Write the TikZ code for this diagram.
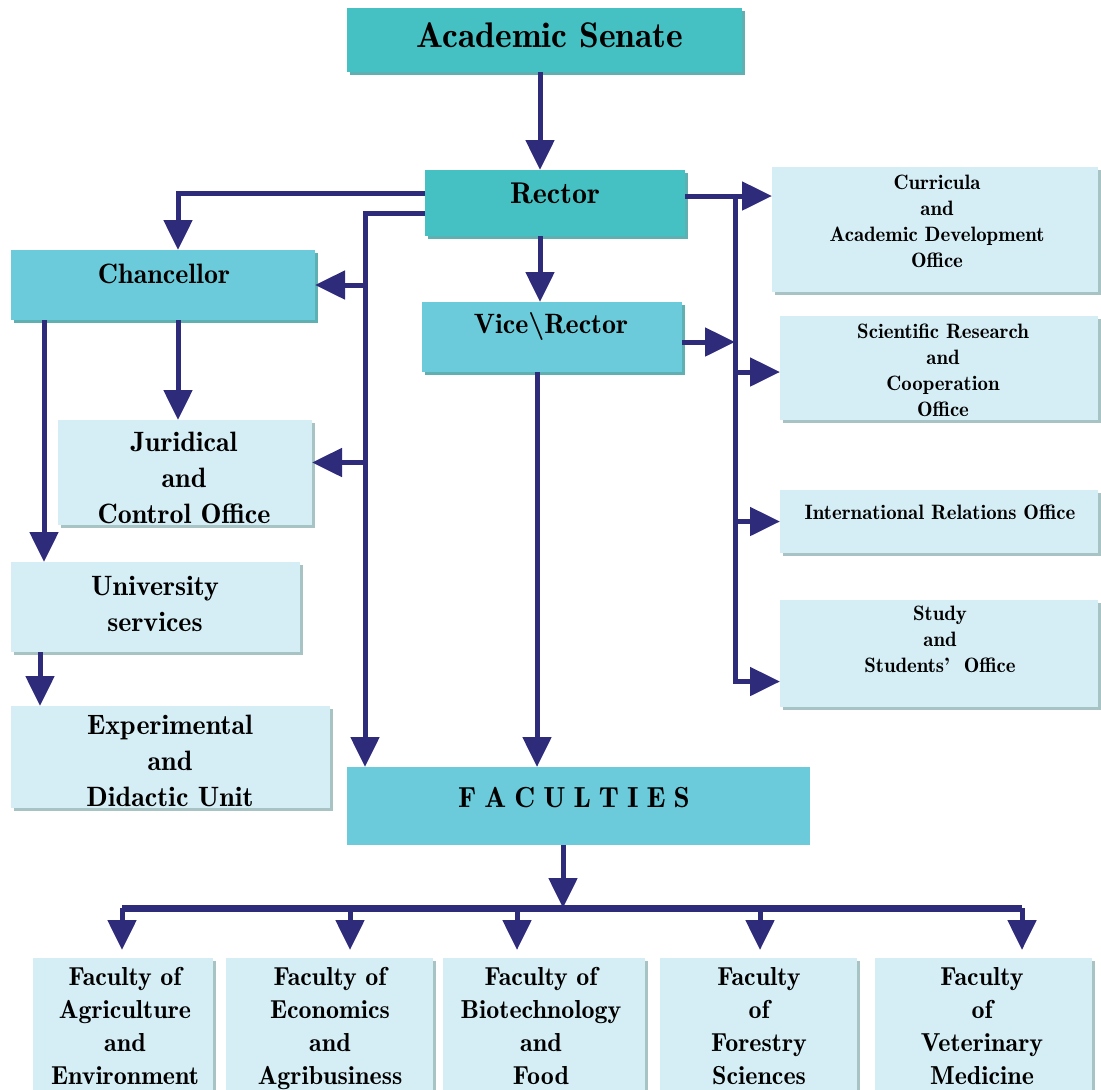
\documentclass[tikz,border=0pt]{standalone}
\usetikzlibrary{arrows.meta,calc,shadows}
\definecolor{tealA}{HTML}{45C1C4}
\definecolor{tealB}{HTML}{6BCBDA}
\definecolor{lightC}{HTML}{D5EEF5}
\definecolor{shadT}{HTML}{5FB0B2}
\definecolor{shadL}{HTML}{A8C3C4}
\definecolor{lineC}{HTML}{2E2B7B}
\begin{document}
\begin{tikzpicture}[x=0.5pt,y=-0.5pt,
  box/.style={anchor=north west, inner sep=0pt, outer sep=0pt, draw=none},
  tealbox/.style={box, fill=tealA, drop shadow={shadow xshift=1.5pt,shadow yshift=-1.5pt,fill=shadT,opacity=1}},
  midbox/.style={box, fill=tealB, drop shadow={shadow xshift=1.5pt,shadow yshift=-1.5pt,fill=shadT,opacity=1}},
  facbox/.style={box, fill=tealB},
  lightbox/.style={box, fill=lightC, drop shadow={shadow xshift=1.5pt,shadow yshift=-1.5pt,fill=shadL,opacity=1}},
  tnode/.style={inner sep=0pt, align=center},
  bigtxt/.style={tnode, font=\fontseries{b}\fontsize{14}{18}\selectfont},
  smalltxt/.style={tnode, font=\fontseries{b}\fontsize{10.4}{13}\selectfont},
  factxt/.style={tnode, anchor=north, font=\fontseries{b}\fontsize{13}{16.5}\selectfont},
  ln/.style={draw=lineC, line width=2.5pt},
  arr/.style={draw=lineC, line width=2.5pt, -{Triangle[length=15pt,width=14pt]}},
]
\useasboundingbox (0,0) rectangle (1101,1089);

% boxes
\node[tealbox, minimum width=197.5pt, minimum height=32pt] (senate) at (347,8) {};
\node[tnode, font=\fontseries{b}\fontsize{17.8}{22}\selectfont] (senateT) at (550,35) {Academic Senate};

\node[tealbox, minimum width=130pt, minimum height=33pt] (rector) at (425,170) {};
\node[tnode, font=\fontseries{b}\fontsize{15}{18}\selectfont] (rectorT) at (555,193) {Rector};

\node[midbox, minimum width=152pt, minimum height=35pt] (chanc) at (11,250) {};
\node[bigtxt] (chancT) at (164,274) {Chancellor};

\node[midbox, minimum width=130pt, minimum height=35pt] (vice) at (422,302) {};
\node[bigtxt] (viceT) at (551,326) {Vice\textbackslash Rector};

\node[lightbox, minimum width=127pt, minimum height=52.5pt] (jur) at (58,420) {};
\node[bigtxt] (jurT) at (184,478) {Juridical\\and\\Control Office};

\node[lightbox, minimum width=144.5pt, minimum height=45pt] (univ) at (11,562) {};
\node[bigtxt] (univT) at (155,604) {University\\services};

\node[lightbox, minimum width=159.5pt, minimum height=51pt] (exper) at (11,706) {};
\node[bigtxt] (experT) at (170,761) {Experimental\\and\\Didactic Unit};

\node[facbox, minimum width=231.5pt, minimum height=39pt] (fac) at (347,767) {};
\node[tnode, font=\fontseries{b}\fontsize{14.5}{18}\selectfont] (facT) at (574,798)
  {F\hspace{4pt}A\hspace{4pt}C\hspace{4pt}U\hspace{4pt}L\hspace{4pt}T\hspace{4pt}I\hspace{4pt}E\hspace{4pt}S};

\node[lightbox, minimum width=163pt, minimum height=62.5pt] (curr) at (772,167) {};
\node[smalltxt] (currT) at (937,221) {Curricula\\and\\Academic Development\\Office};

\node[lightbox, minimum width=159pt, minimum height=52pt] (sci) at (780,316) {};
\node[smalltxt] (sciT) at (943,370) {Scientific Research\\and\\Cooperation\\Office};

\node[lightbox, minimum width=159pt, minimum height=31.5pt] (intl) at (780,490) {};
\node[smalltxt] (intlT) at (940,512) {International Relations Office};

\node[lightbox, minimum width=159pt, minimum height=53.5pt] (study) at (780,600) {};
\node[smalltxt] (studyT) at (940,639) {Study\\and\\Students'~ Office};

\node[lightbox, minimum width=90pt, minimum height=70pt] (f1) at (33,958) {};
\node[lightbox, minimum width=103.5pt, minimum height=70pt] (f2) at (226,958) {};
\node[lightbox, minimum width=101pt, minimum height=70pt] (f3) at (443,958) {};
\node[lightbox, minimum width=98.5pt, minimum height=70pt] (f4) at (660,958) {};
\node[lightbox, minimum width=108.5pt, minimum height=70pt] (f5) at (875,958) {};
\node[factxt] (f1T) at (125,967) {Faculty of\\Agriculture\\and\\Environment};
\node[factxt] (f2T) at (330,967) {Faculty of\\Economics\\and\\Agribusiness};
\node[factxt] (f3T) at (541,967) {Faculty of\\Biotechnology\\and\\Food};
\node[factxt] (f4T) at (759,967) {Faculty\\of\\Forestry\\Sciences};
\node[factxt] (f5T) at (982,967) {Faculty\\of\\Veterinary\\Medicine};

% helper coordinates
\coordinate (c1) at (540,0);
\coordinate (c2) at (537,0);
\coordinate (c3) at (178,0);
\coordinate (c4) at (44,0);
\coordinate (c5) at (40,0);
\coordinate (c6) at (563,0);
\coordinate (cL) at (365,0);
\coordinate (rb) at (735,0);
\coordinate (bus) at (0,908);
\coordinate (d1) at (122,0);
\coordinate (d2) at (350,0);
\coordinate (d3) at (517,0);
\coordinate (d4) at (760,0);
\coordinate (d5) at (1022,0);

% connectors
\draw[arr] (senate.south -| c1) -- (rector.north -| c1);
\draw[arr] (rector.south -| c1) -- (vice.north -| c1);
\draw[arr] ([yshift=5pt]rector.west) -| (chanc.north -| c3);
\draw[arr] ([yshift=-5pt]rector.west) -| (fac.north -| cL);
\draw[arr] (chanc.east -| cL) -- (chanc.east);
\coordinate (j1) at ([yshift=5pt]jur.east);
\draw[arr] (j1 -| cL) -- (j1);
\draw[arr] (chanc.south -| c3) -- (jur.north -| c3);
\draw[arr] (chanc.south -| c4) -- (univ.north -| c4);
\draw[arr] (univ.south -| c5) -- (exper.north -| c5);

\coordinate (r1) at ([yshift=3.5pt]rector.east);
\draw[arr] (r1) -- (r1 -| curr.west);
\coordinate (s1) at ([yshift=-14pt]study.west);
\draw[arr] (r1 -| rb) -- (s1 -| rb) -- (s1);
\coordinate (sc1) at ([yshift=-2pt]sci.west);
\draw[arr] (sc1 -| rb) -- (sc1);
\draw[arr] (intl.west -| rb) -- (intl.west);
\coordinate (v1) at ([yshift=-2.5pt]vice.east);
\draw[arr] (v1) -- (v1 -| rb);
\draw[arr] (vice.south -| c2) -- (fac.north -| c2);

\draw[arr] (fac.south -| c6) -- (bus -| c6);
\draw[draw=lineC, line width=3.5pt] (bus -| d1) -- (bus -| d5);
\foreach \d/\f in {d1/f1,d2/f2,d3/f3,d4/f4,d5/f5}{
  \draw[arr, shorten >=4pt] (bus -| \d) -- (\f.north -| \d);
}
\end{tikzpicture}
\end{document}
